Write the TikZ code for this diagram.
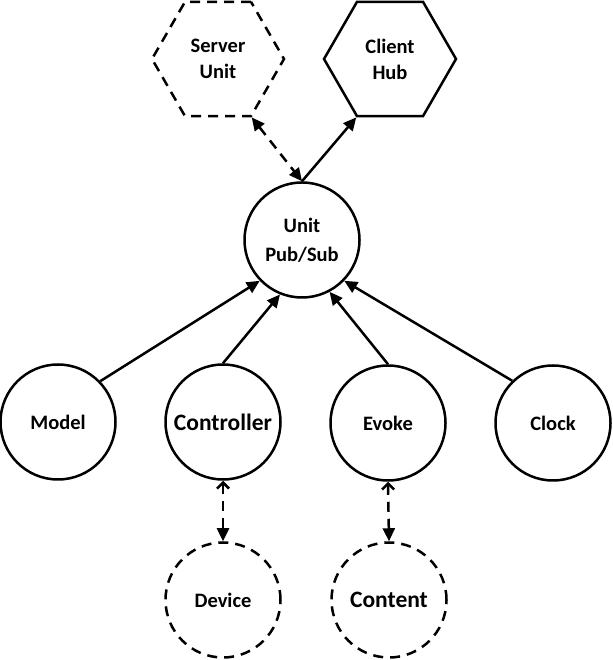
\documentclass[tikz,border=0pt]{standalone}
\usepackage{fontspec}
\setmainfont{Carlito}
\usetikzlibrary{shapes.geometric,arrows.meta}

\tikzset{
  unitnode/.style={circle, draw, line width=2.5pt, minimum size=115pt, inner sep=0pt,
    align=center, font=\bfseries\fontsize{20.5}{29}\selectfont},
  bignode/.style={unitnode, font=\bfseries\fontsize{23.5}{28}\selectfont},
  extnode/.style={dash pattern=on 10pt off 7pt},
  hubnode/.style={regular polygon, regular polygon sides=6, draw, line width=2.5pt,
    minimum size=132pt, inner sep=0pt, align=center, font=\bfseries\fontsize{20.5}{26}\selectfont},
  tip/.tip={Triangle[length=13pt,width=12pt]},
  barb/.tip={Straight Barb[length=6pt,width=12pt,line width=2.5pt]},
  link/.style={line width=2.5pt, -tip},
  dlink/.style={line width=2.5pt, dash pattern=on 10pt off 7pt}
}

\begin{document}
\begin{tikzpicture}[x=1pt,y=1pt]
\useasboundingbox (0,0) rectangle (612,660);

\node[hubnode, extnode] (server) at (218,601) {Server\\Unit};
\node[hubnode] (client) at (390,601) {Client\\Hub};
\node[unitnode] (unit) at (302,420) {Unit\\Pub/Sub};

\node[unitnode] (model) at (58,238) {Model};
\node[bignode] (controller) at (223,238) {Controller};
\node[unitnode] (evoke) at (388,237) {Evoke};
\node[unitnode] (clock) at (553,237) {Clock};

\node[unitnode, extnode] (device) at (223,60) {Device};
\node[bignode, extnode] (content) at (389,60) {Content};

\draw[dlink, tip-tip] (server.-60) -- (unit.north);
\draw[link] (unit.north) -- (client.-120);

\draw[link] (model.44) -- (unit.-136);
\draw[link] (controller.north) -- (unit.-112);
\draw[link] (evoke.north) -- (unit.-62);
\draw[link] (clock.134) -- (unit.-44);

\draw[dlink, barb-tip] (controller.south) -- (device.north);
\draw[dlink, barb-tip] (evoke.south) -- (content.north);
\end{tikzpicture}
\end{document}
